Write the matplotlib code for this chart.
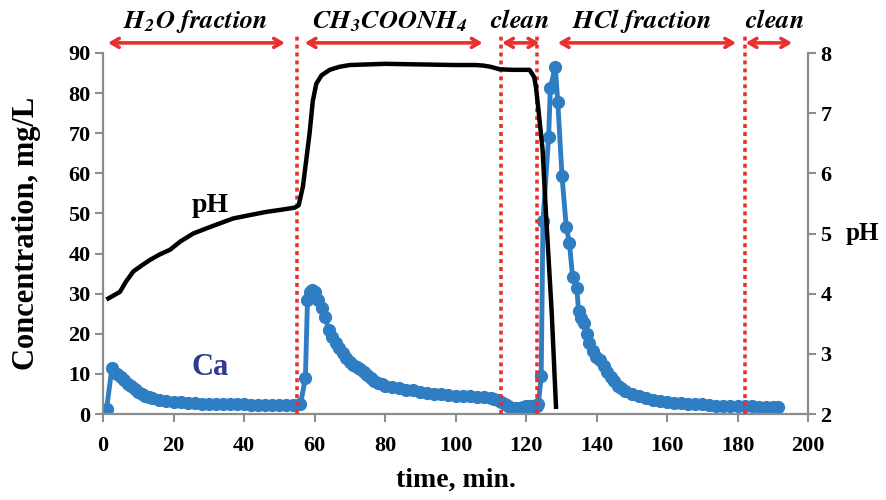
import numpy as np
import matplotlib
matplotlib.use('Agg')
from matplotlib import pyplot as plt

plt.rcParams['font.family'] = ['Liberation Serif', 'DejaVu Serif']
plt.rcParams['font.weight'] = 'bold'
plt.rcParams['mathtext.fontset'] = 'custom'
plt.rcParams['mathtext.rm'] = 'STIXGeneral:italic:bold'
plt.rcParams['mathtext.it'] = 'STIXGeneral:italic:bold'

# Ca concentration, mg/L (left axis)
ca_time = [1, 2.5, 4, 5, 6, 7, 8, 9, 10, 11, 12, 13, 14, 16, 18, 20, 22, 24, 26, 28,
           30, 32, 34, 36, 38, 40, 42, 44, 46, 48, 50, 52, 54, 56,
           57.4, 58, 58.7, 59.3, 60, 61, 62, 63, 64, 65, 66, 67, 68, 69, 70, 71, 72,
           73, 74, 75, 76, 77, 78, 79, 80, 82, 84, 86, 88, 90, 92, 94, 96, 98, 100,
           102, 104, 106, 108, 110, 111, 112, 113, 114, 115, 116, 117, 118, 119, 120,
           121, 122, 123, 123.5, 124.3, 124.8, 126.4, 126.9, 128.3, 129, 130.2, 131.4,
           132.3, 133.2, 134.4, 134.9, 135.7, 136.5, 137.2, 138, 139, 139.8, 141, 142,
           143, 144, 145, 146, 147, 148, 150, 152, 154, 156, 158, 160, 162, 164, 166,
           168, 170, 172, 174, 176, 178, 180, 182, 184, 186, 188, 190, 191.5]
ca_conc = [1.2, 11.4, 10.0, 9.2, 8.4, 7.6, 6.9, 6.2, 5.5, 5.0, 4.6, 4.3, 4.0, 3.6, 3.2,
           3.0, 2.9, 2.8, 2.7, 2.6, 2.5, 2.5, 2.4, 2.4, 2.4, 2.4, 2.3, 2.3, 2.3, 2.2,
           2.2, 2.2, 2.2, 2.4,
           8.9, 28.4, 30.5, 30.9, 30.5, 28.5, 26.5, 24.3, 21.0, 19.2, 17.8, 16.4, 15.1,
           13.9, 13.0, 12.3, 11.7, 11.2, 10.5, 9.8, 9.0, 8.3, 7.8, 7.4, 7.1, 6.7, 6.4,
           6.1, 5.9, 5.6, 5.3, 5.1, 4.9, 4.7, 4.6, 4.5, 4.4, 4.3, 4.3, 4.1, 3.8, 3.4,
           3.0, 2.4, 1.9, 1.6, 1.5, 1.5, 1.7, 1.9, 2.0, 2.0, 2.0, 2.4, 9.5, 48.0, 69.0,
           81.3, 86.6, 77.9, 59.4, 46.7, 42.7, 34.2, 31.3, 25.8, 24.0, 22.6, 20.0, 17.6,
           15.8, 14.3, 13.5, 12.0, 10.5, 9.2, 8.2, 7.0, 6.4, 5.8, 5.0, 4.4, 4.0, 3.6,
           3.3, 3.0, 2.8, 2.7, 2.6, 2.5, 2.4, 2.2, 2.1, 2.0, 2.0, 2.0, 1.9, 1.9, 1.8,
           1.8, 1.7, 1.7]

# pH (right axis)
ph_time = [1.5, 3, 4.8, 6.5, 8.6, 11, 13.3, 16, 19, 22, 25.6, 30, 36.9, 42, 46.4, 50,
           54.4, 55.5, 56.7, 57.6, 58.6, 59.5, 60.5, 62, 64.3, 67, 70, 80, 90, 100,
           105.8, 108, 110, 112.5, 116, 121, 122.3, 122.8, 123.5, 124.7, 125.7, 126.1,
           127.3, 128.5]
ph_val = [3.92, 3.97, 4.03, 4.20, 4.37, 4.47, 4.56, 4.65, 4.73, 4.87, 5.00, 5.10, 5.25,
          5.31, 5.36, 5.39, 5.43, 5.47, 5.78, 6.20, 6.67, 7.20, 7.49, 7.63, 7.72, 7.77,
          7.80, 7.82, 7.81, 7.80, 7.80, 7.79, 7.77, 7.73, 7.72, 7.72, 7.60, 7.44, 7.07,
          6.39, 5.28, 4.89, 3.67, 2.12]

# fraction boundaries and labels
bounds = [55, 113, 123, 182]
seg_labels = [r'$\mathrm{H_2O\ fraction}$', r'$\mathrm{CH_3COONH_4}$', r'$\mathrm{clean}$',
              r'$\mathrm{HCl\ fraction}$', r'$\mathrm{clean}$']
seg_label_x = [26.3, 81.3, 118.1, 152.8, 190.4]
seg_arrows = [(1.4, 51.6), (57.2, 107.7), (113.2, 123.8), (129, 179.6), (182.3, 195.5)]

blue = '#2f7dc3'
red = '#e8302f'
grey = '#8c8c8c'

fig = plt.figure(figsize=(8.86, 5.0), dpi=100)
ax = fig.add_axes([0.1163, 0.172, 0.7957, 0.722])
ax2 = ax.twinx()

ax.plot(ca_time, ca_conc, '-o', color=blue, lw=3.5, ms=8.5, zorder=2)
for b in bounds:
    ax.axvline(b, ymin=0, ymax=1.05, color=red, lw=2.6, ls=(0, (1.1, 1.1)),
               clip_on=False, zorder=3)

ax2.plot(ph_time, ph_val, '-', color='black', lw=3.2)

for (x0, x1), lab, lx in zip(seg_arrows, seg_labels, seg_label_x):
    ax.annotate('', xy=(x1, 1.028), xytext=(x0, 1.028),
                xycoords=('data', 'axes fraction'),
                arrowprops=dict(arrowstyle='<->,head_length=0.55,head_width=0.32',
                                color=red, lw=2.6, shrinkA=0, shrinkB=0))
    ax.text(lx, 1.088, lab, transform=ax.get_xaxis_transform(), ha='center',
            va='center', fontsize=19)

ax.text(30.3, 52.1, 'pH', ha='center', va='center', fontsize=20, fontweight='bold')
ax.text(30.3, 11.7, 'Ca', ha='center', va='center', fontsize=22, fontweight='bold',
        color='#2e3b8f')

ax.set_xlim(0, 200)
ax.set_ylim(0, 90)
ax2.set_ylim(2, 8)
ax.set_xticks(np.arange(0, 201, 20))
ax.set_yticks(np.arange(0, 91, 10))
ax2.set_yticks(np.arange(2, 9, 1))

ax.set_xlabel('time, min.', fontsize=20, fontweight='bold', labelpad=9)
ax.set_ylabel('Concentration, mg/L', fontsize=22, fontweight='bold', labelpad=20)
ax2.set_ylabel('pH', fontsize=18, fontweight='bold', rotation=0, va='center',
               labelpad=22)

for a in (ax, ax2):
    a.spines['top'].set_visible(False)
    for s in ('left', 'right', 'bottom'):
        a.spines[s].set_color(grey)
        a.spines[s].set_linewidth(1.6)
    a.tick_params(colors=grey, width=1.5, length=5.5, labelsize=16, labelcolor='black')
    for t in a.get_xticklabels() + a.get_yticklabels():
        t.set_fontweight('bold')
ax.spines['right'].set_visible(False)
ax2.spines['left'].set_visible(False)
ax2.spines['bottom'].set_visible(False)
ax.tick_params(axis='x', pad=10)

fig.savefig('out.png', dpi=100)
